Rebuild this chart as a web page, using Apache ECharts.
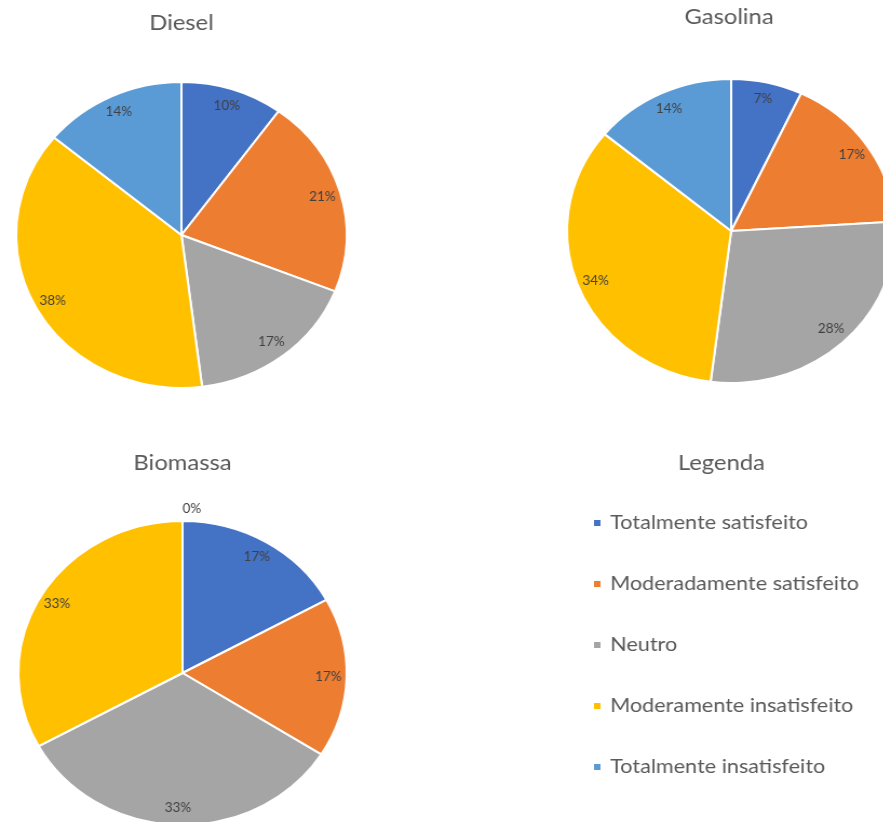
<!DOCTYPE html>
<html>
<head>
<meta charset="utf-8">
<script src="https://cdn.jsdelivr.net/npm/echarts@6/dist/echarts.min.js"></script>
<style>
  html, body { margin: 0; padding: 0; background: #fff; overflow: hidden; }
  /* the whole figure is slightly wider than tall, so the drawing is stretched horizontally */
  #chart { width: 818px; height: 822px; transform: scaleX(1.08); transform-origin: 0 0; }
</style>
</head>
<body>
<div id="chart"></div>
<script>
const categories = [
  'Totalmente satisfeito',
  'Moderadamente satisfeito',
  'Neutro',
  'Moderamente insatisfeito',
  'Totalmente insatisfeito'
];
const diesel = [10, 21, 17, 38, 14];
const gasolina = [7, 17, 28, 34, 14];
const biomassa = [17, 17, 33, 33, 0];
const colors = ['#4472C4', '#ED7D31', '#A5A5A5', '#FFC000', '#5B9BD5'];

const FONT = 'Lato, "Open Sans", sans-serif';
const R = 152;

function toData(values) {
  return values.map((v, i) => ({ name: categories[i], value: v }));
}

// filled pie with white separators
function piePart(values, center, r) {
  return {
    type: 'pie',
    center: center,
    radius: [0, r],
    startAngle: 90,
    clockwise: true,
    silent: true,
    animation: false,
    label: { show: false },
    labelLine: { show: false },
    itemStyle: { borderColor: '#fff', borderWidth: 2 },
    data: toData(values)
  };
}

// transparent ring that only carries the percentage labels near the rim
function labelPart(values, center, r) {
  return {
    type: 'pie',
    center: center,
    radius: [r - 40, r],
    startAngle: 90,
    clockwise: true,
    silent: true,
    animation: false,
    legendHoverLink: false,
    itemStyle: { color: 'rgba(0,0,0,0)', borderWidth: 0 },
    label: {
      show: true,
      position: 'inside',
      formatter: '{c}%',
      color: '#404040',
      fontSize: 12.5,
      fontFamily: FONT
    },
    labelLine: { show: false },
    data: values.map((v, i) => {
      const d = { name: categories[i], value: v };
      if (v === 0) {
        d.label = { position: 'outside', distanceToLabelLine: 0, color: '#404040' };
        d.labelLine = { show: false, length: 12, length2: 0 };
      }
      return d;
    })
  };
}

const chart = echarts.init(document.getElementById('chart'), null, { renderer: 'canvas' });

const titleStyle = { color: '#595959', fontSize: 22, fontWeight: 'normal', fontFamily: FONT };

const option = {
  color: colors,
  animation: false,
  title: [
    { text: 'Diesel', left: 163, top: 7, textAlign: 'center', textStyle: titleStyle },
    { text: 'Gasolina', left: 670, top: 1, textAlign: 'center', textStyle: titleStyle },
    { text: 'Biomassa', left: 164, top: 447, textAlign: 'center', textStyle: titleStyle },
    { text: 'Legenda', left: 663, top: 447, textAlign: 'center', textStyle: titleStyle }
  ],
  legend: {
    orient: 'vertical',
    left: 543,
    top: 508,
    itemWidth: 8,
    itemHeight: 8,
    itemGap: 41,
    icon: 'rect',
    selectedMode: false,
    data: categories,
    textStyle: { color: '#595959', fontSize: 20, fontFamily: FONT, padding: [0, 0, 0, 3] }
  },
  series: [
    piePart(diesel, [168, 235], R + 1),
    labelPart(diesel, [168, 235], R + 1),
    piePart(gasolina, [677, 231], R),
    labelPart(gasolina, [677, 231], R),
    piePart(biomassa, [169, 673], R),
    labelPart(biomassa, [169, 673], R)
  ]
};

chart.setOption(option);
</script>
</body>
</html>
